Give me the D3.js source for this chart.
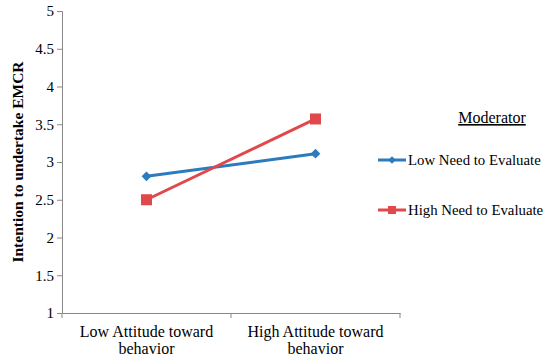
<!DOCTYPE html>
<html>
<head>
<meta charset="utf-8">
<script src="https://cdn.jsdelivr.net/npm/d3@7"></script>
<style>
  body { margin: 0; background: #fff; }
</style>
</head>
<body>
<div id="chart"></div>
<script>
// data
const categories = ['Low Attitude toward behavior', 'High Attitude toward behavior'];
const seriesNames = ['Low Need to Evaluate', 'High Need to Evaluate'];
const lowNeed = [2.81, 3.11];
const highNeed = [2.50, 3.57];
const yTicks = [1, 1.5, 2, 2.5, 3, 3.5, 4, 4.5, 5];

const FONT = '"Liberation Serif", "Times New Roman", serif';
const width = 550, height = 363;
const margin = { left: 62, right: 150, top: 11, bottom: 50 };

const svg = d3.select('#chart').append('svg').attr('width', width).attr('height', height)
    .attr('font-family', FONT);

const x = d3.scaleBand().domain(categories).range([margin.left, width - margin.right]);
const y = d3.scaleLinear().domain([1, 5]).range([height - margin.bottom, margin.top]);

// y axis
const yAxis = svg.append('g').attr('transform', 'translate(' + margin.left + ',0)')
    .call(d3.axisLeft(y).tickValues(yTicks).tickSize(5).tickPadding(3).tickFormat(d3.format('')));
yAxis.attr('font-family', FONT).attr('font-size', 15);
yAxis.selectAll('line, path').attr('stroke', '#888');
yAxis.selectAll('text').attr('fill', '#000');

// x axis
const xAxis = svg.append('g').attr('transform', 'translate(0,' + y(1) + ')')
    .call(d3.axisBottom(x).tickSize(0).tickFormat(''));
xAxis.select('path').attr('stroke', '#888');
// boundary ticks
const bounds = [margin.left].concat(categories.map(function (c) { return x(c) + x.bandwidth(); }));
xAxis.selectAll('.btick').data(bounds).enter().append('line')
    .attr('x1', function (d) { return d; }).attr('x2', function (d) { return d; })
    .attr('y1', 0).attr('y2', 5).attr('stroke', '#888');

// category labels (two lines)
categories.forEach(function (c) {
    const words = c.split(' ');
    const mid = x(c) + x.bandwidth() / 2;
    const t = svg.append('text').attr('text-anchor', 'middle').attr('font-size', 16)
        .attr('x', mid).attr('y', y(1) + 24);
    t.append('tspan').attr('x', mid).text(words.slice(0, 3).join(' '));
    t.append('tspan').attr('x', mid).attr('dy', 17).text(words.slice(3).join(' '));
});

// y title
svg.append('text').attr('transform', 'translate(23,' + ((y(1) + y(5)) / 2) + ') rotate(-90)')
    .attr('text-anchor', 'middle').attr('font-size', 15.5).attr('font-weight', 'bold')
    .text('Intention to undertake EMCR');

const colors = ['#2b7bbd', '#e0484b'];
const series = [lowNeed, highNeed];
const cx = function (i) { return x(categories[i]) + x.bandwidth() / 2; };
const line = d3.line().x(function (d, i) { return cx(i); }).y(function (d) { return y(d); });

series.forEach(function (s, k) {
    svg.append('path').datum(s).attr('d', line).attr('fill', 'none')
        .attr('stroke', colors[k]).attr('stroke-width', 3);
});

// markers
svg.selectAll('.diamond').data(lowNeed).enter().append('path')
    .attr('transform', function (d, i) { return 'translate(' + cx(i) + ',' + y(d) + ')'; })
    .attr('d', d3.symbol().type(d3.symbolDiamond2).size(60)).attr('fill', colors[0]);
svg.selectAll('.square').data(highNeed).enter().append('rect')
    .attr('x', function (d, i) { return cx(i) - 5.5; }).attr('y', function (d) { return y(d) - 5.5; })
    .attr('width', 11).attr('height', 11).attr('fill', colors[1]);

// legend
const lx = 378;
svg.append('text').attr('x', 492).attr('y', 123).attr('text-anchor', 'middle')
    .attr('font-size', 16).attr('text-decoration', 'underline').text('Moderator');
seriesNames.forEach(function (n, k) {
    const ly = 160 + k * 50;
    svg.append('line').attr('x1', lx).attr('x2', lx + 28).attr('y1', ly).attr('y2', ly)
        .attr('stroke', colors[k]).attr('stroke-width', 3);
    if (k === 0) {
        svg.append('path').attr('transform', 'translate(' + (lx + 14) + ',' + ly + ')')
            .attr('d', d3.symbol().type(d3.symbolDiamond2).size(36)).attr('fill', colors[k]);
    } else {
        svg.append('rect').attr('x', lx + 10).attr('y', ly - 4).attr('width', 8).attr('height', 8)
            .attr('fill', colors[k]);
    }
    svg.append('text').attr('x', lx + 30).attr('y', ly + 5).attr('font-size', 14.8).text(n);
});
</script>
</body>
</html>
